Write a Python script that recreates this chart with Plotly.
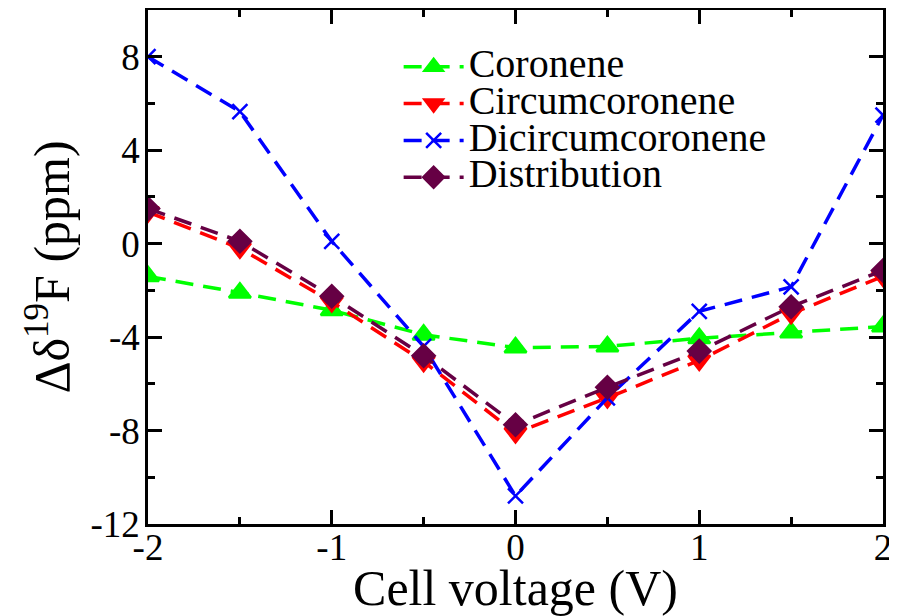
import plotly.graph_objects as go

voltage = [-2, -1.5, -1, -0.5, 0, 0.5, 1, 1.5, 2]
coronene = [-1.4, -2.1, -2.85, -3.9, -4.45, -4.4, -4.05, -3.8, -3.55]
circumcoronene = [1.35, -0.2, -2.5, -5.05, -8.1, -6.6, -5.0, -3.0, -1.4]
dicircumcoronene = [8.0, 5.65, 0.1, -4.4, -10.8, -6.6, -2.9, -1.85, 5.5]
distribution = [1.5, 0.1, -2.25, -4.8, -7.75, -6.15, -4.6, -2.7, -1.15]

x_ticks = [-2, -1, 0, 1, 2]
x_ticklabels = ["-2", "-1", "0", "1", "2"]
y_ticks = [-12, -8, -4, 0, 4, 8]
y_ticklabels = ["-12", "-8", "-4", "0", "4", "8"]

series = [
    ("Coronene", coronene, "#00ff00", "triangle-up", 19),
    ("Circumcoronene", circumcoronene, "#ff0000", "triangle-down", 19),
    ("Dicircumcoronene", dicircumcoronene, "#0000ff", "x-thin", 15),
    ("Distribution", distribution, "#660044", "diamond", 17),
]

FONT = "Liberation Serif, serif"

fig = go.Figure()
for name, vals, color, sym, size in series:
    fig.add_trace(go.Scatter(
        x=voltage, y=vals,
        name='<span style="font-size:40px">' + name + '</span>',
        mode="lines+markers",
        line=dict(color=color, width=3.5, dash="18px,10px"),
        marker=dict(symbol=sym, size=size, color=color,
                    line=dict(color=color, width=2.5)),
    ))

axis_common = dict(
    showline=True, linecolor="black", linewidth=2.5, mirror="allticks",
    ticks="inside", ticklen=14, tickwidth=2.5, tickcolor="black",
    showgrid=False, zeroline=False, automargin=False,
    tickfont=dict(family=FONT, size=37, color="black"),
)

# page body has an 8px margin: shrink the figure so the plot area lands
# at x 148..883, y 10..524 of the window
fig.update_layout(
    width=889, height=608,
    paper_bgcolor="white", plot_bgcolor="white",
    margin=dict(l=140, r=14, t=2, b=92),
    font=dict(family=FONT, color="black"),
    xaxis=dict(range=[-2, 2], tickvals=x_ticks, ticktext=x_ticklabels,
               ticklabelstandoff=-11,
               title=dict(text="Cell voltage (V)", font=dict(family=FONT, size=50), standoff=10),
               **axis_common),
    yaxis=dict(range=[-12, 10], tickvals=y_ticks, ticktext=y_ticklabels,
               ticklabelstandoff=-2,
               title=dict(text="Δδ<sup>19</sup>F (ppm)", font=dict(family=FONT, size=50), standoff=6),
               **axis_common),
    legend=dict(x=0.341, y=0.935, xanchor="left", yanchor="top",
                font=dict(family=FONT, size=26, color="black"),
                bgcolor="rgba(0,0,0,0)", itemwidth=60),
    showlegend=True,
)
fig.update_xaxes(minor=dict(ticks="inside", ticklen=7, tickwidth=2.5, tickcolor="black",
                            dtick=0.5, tick0=0))
fig.update_yaxes(minor=dict(ticks="inside", ticklen=7, tickwidth=2.5, tickcolor="black",
                            dtick=2, tick0=0))

fig.write_html("out.html")
